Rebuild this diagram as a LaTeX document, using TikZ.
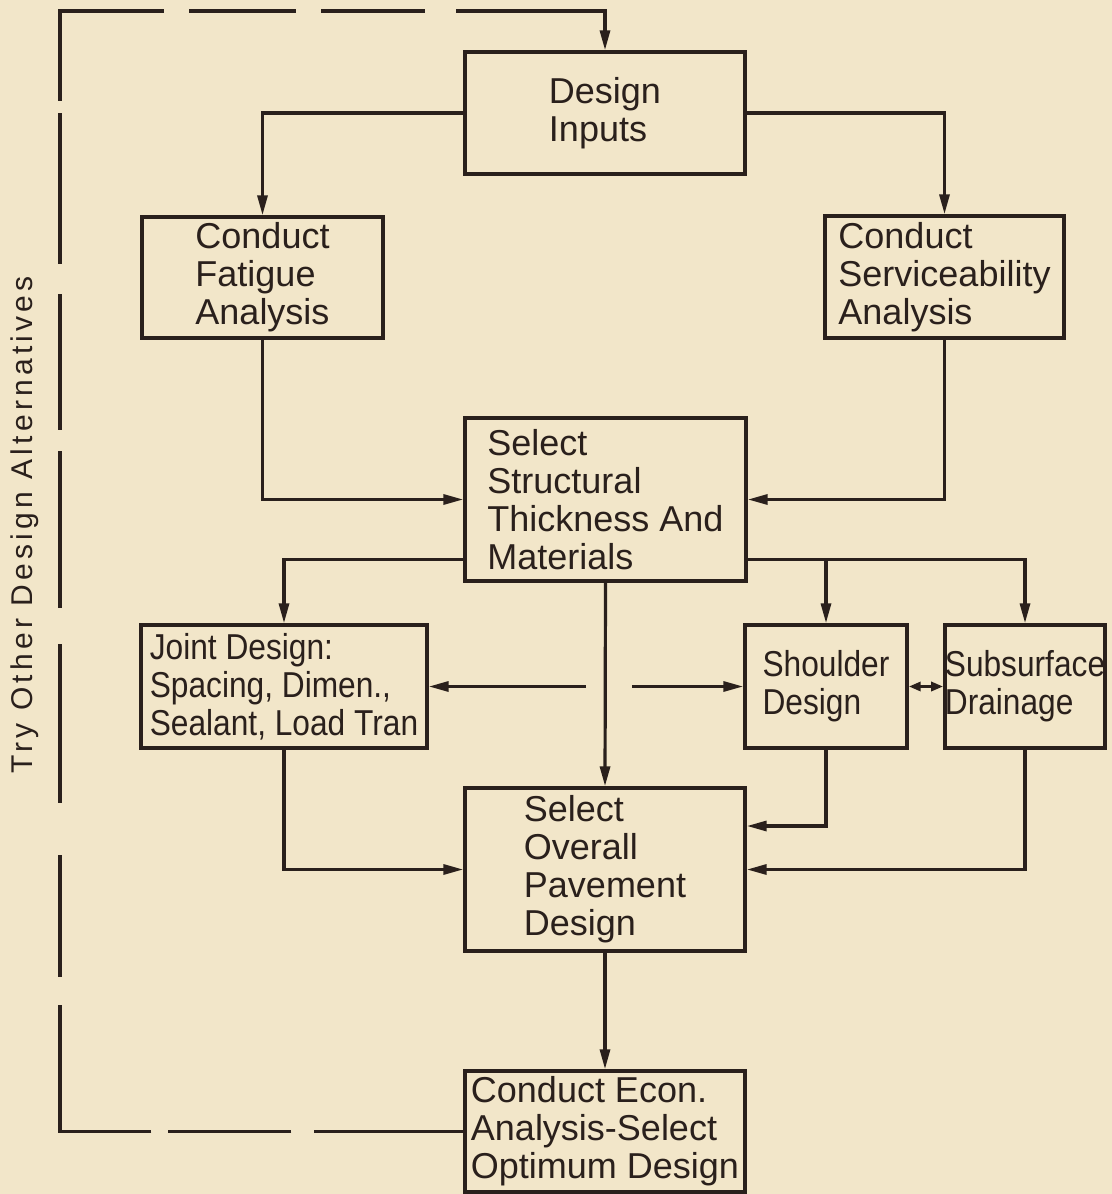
\documentclass[tikz,border=0pt]{standalone}
\usepackage{fontspec}
\setmainfont{Liberation Sans}
\newfontfamily\narrowfont[FakeStretch=0.88]{Liberation Sans}
\newfontfamily\spacedfont[LetterSpace=14]{Liberation Sans}
\usetikzlibrary{arrows.meta}
\definecolor{paper}{RGB}{242,230,201}
\definecolor{ink}{RGB}{42,32,28}

\begin{document}
\begin{tikzpicture}[x=0.5pt, y=-0.5pt,
    procbox/.style={draw=ink, line width=1.7pt, inner sep=0pt, align=left, text=ink,
        font=\fontsize{18}{19}\selectfont},
    narrowbox/.style={procbox, font=\narrowfont\fontsize{18}{19}\selectfont},
    flow/.style={draw=ink, line width=1.6pt, -{Triangle[length=10pt,width=5pt]}},
    twoway/.style={draw=ink, line width=1.6pt,
        {Triangle[length=6pt,width=4.5pt]}-{Triangle[length=6pt,width=4.5pt]}},
    fbline/.style={flow, dash pattern=on 74.5pt off 11.5pt on 61.5pt off 8.5pt on 109pt off 14pt
        on 61pt off 26pt on 79.5pt off 18pt on 78.5pt off 10.5pt on 68pt off 15pt
        on 75.5pt off 6pt on 97pt off 12.5pt on 53.5pt off 12.5pt on 52pt off 15.5pt
        on 96pt off 20pt}]
    \fill [paper] (0,0) rectangle (1112,1194);
    \useasboundingbox (0,0) rectangle (1112,1194);

    % boxes
    \node [procbox, minimum width=140pt, minimum height=61pt] (inputs) at (605,113) {Design\\Inputs};
    \node [procbox, minimum width=120.5pt, minimum height=60.5pt] (fatigue) at (262.5,277.5) {Conduct\\Fatigue\\Analysis};
    \node [procbox, minimum width=119.5pt, minimum height=61pt] (service) at (944.5,277) {Conduct\\Serviceability\\Analysis};
    \node [procbox, minimum width=140.5pt, minimum height=81.5pt] (structural) at (605.5,499.5) {Select\\Structural\\Thickness And\\Materials};
    \node [narrowbox, minimum width=143pt, minimum height=61.5pt] (joint) at (284,686.5) {Joint Design:\\Spacing, Dimen.,\\Sealant, Load Tran};
    \node [narrowbox, minimum width=81pt, minimum height=61.5pt] (shoulder) at (826,686.5) {Shoulder\\Design};
    \node [narrowbox, minimum width=79pt, minimum height=61.5pt] (subsurf) at (1025,686.5) {Subsurface\\Drainage};
    \node [procbox, minimum width=140pt, minimum height=81.5pt] (overall) at (605,869.5) {Select\\Overall\\Pavement\\Design};
    \node [procbox, minimum width=140pt, minimum height=60.5pt] (econ) at (605,1131.5) {Conduct Econ.\\Analysis-Select\\Optimum Design};
    \node [rotate=90, text=ink, font=\spacedfont\fontsize{15}{16}\selectfont] (tryalt) at (25,525) {Try Other Design Alternatives};

    % connectors
    \draw [flow] (inputs.west) -| (fatigue.north);
    \draw [flow] (inputs.east) -| (service.north);
    \draw [flow] (fatigue.south) |- (structural.west);
    \draw [flow] (service.south) |- (structural.east);
    \coordinate (sl) at ([yshift=-30pt]structural.west);
    \coordinate (sr) at ([yshift=-30pt]structural.east);
    \draw [flow] (sl) -| (joint.north);
    \draw [flow] (sr) -| (subsurf.north);
    \draw [flow] (sr -| shoulder.north) -- (shoulder.north);
    \draw [flow] (structural.south) -- (overall.north);
    \coordinate (gapl) at (586,686.5);
    \coordinate (gapr) at (632,686.5);
    \draw [flow] (gapl) -- (joint.east);
    \draw [flow] (gapr) -- (shoulder.west);
    \draw [twoway] (shoulder.east) -- (subsurf.west);
    \draw [flow] (joint.south) |- (overall.west);
    \draw [flow] (subsurf.south) |- (overall.east);
    \coordinate (ovr) at ([yshift=21.75pt]overall.east);
    \draw [flow] (shoulder.south) |- (ovr);
    \draw [flow] (overall.south) -- (econ.north);

    % feedback loop
    \coordinate (fbb) at (60,1131.5);
    \coordinate (fbt) at (60,11);
    \draw [fbline] (econ.west) -- (fbb) -- (fbt) -| (inputs.north);
\end{tikzpicture}
\end{document}
